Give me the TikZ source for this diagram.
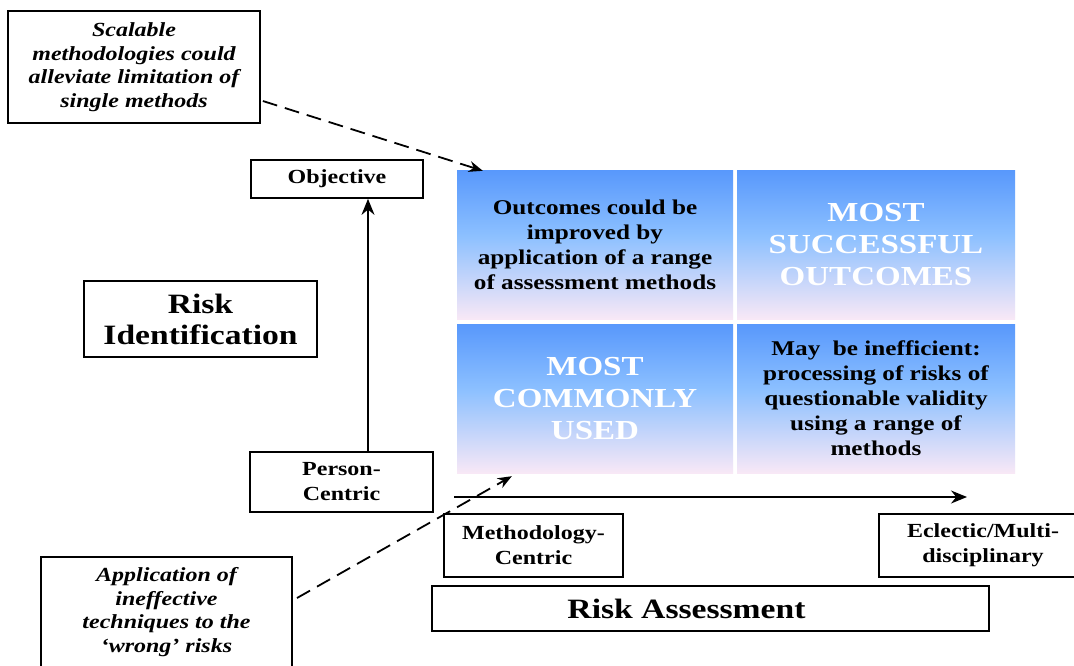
\documentclass[tikz,border=0pt]{standalone}
\usepackage{fontspec}
\setmainfont[FakeStretch=1.2]{Liberation Serif}
\usetikzlibrary{arrows.meta,calc}
\definecolor{qtop}{RGB}{88,152,252}
\definecolor{qmid}{RGB}{140,192,255}
\definecolor{qbot}{RGB}{248,232,246}
\pgfdeclareverticalshading{quadshade}{100bp}{color(0bp)=(qbot); color(25bp)=(qbot); color(53bp)=(qmid); color(75bp)=(qtop); color(100bp)=(qtop)}
\begin{document}
\begin{tikzpicture}[x=1pt,y=-1pt,
  box/.style={draw=black, line width=1.7pt, inner sep=0pt, align=center, fill=white},
  small/.style={font=\fontsize{20}{25}\selectfont\bfseries},
  ital/.style={font=\fontsize{20}{23.5}\selectfont\bfseries\itshape},
  big/.style={font=\fontsize{28}{31}\selectfont\bfseries},
  cell/.style={shading=quadshade, inner sep=0pt, align=center, minimum width=#1, minimum height=149pt},
  darktext/.style={font=\fontsize{21}{25}\selectfont\bfseries, text=black},
  lighttext/.style={font=\fontsize{27.5}{32}\selectfont\bfseries, text=white},
  solidarrow/.style={line width=1.7pt, -{Stealth[length=16pt,width=13pt]}},
  dasharrow/.style={line width=1.8pt, dash pattern=on 15pt off 8pt, -{Stealth[length=14pt,width=11pt]}}
]
\useasboundingbox (0,0) rectangle (1074,665);
\clip (0,0) rectangle (1074,665);
\fill[white] (0,0) rectangle (1074,665);

% quadrant cells
\node[cell=276pt, darktext] (q1) at (595,244.5) {Outcomes could be\\ improved by\\ application of a range\\ of assessment methods};
\node[cell=278pt, lighttext] (q2) at (876,244.5) {MOST\\ SUCCESSFUL\\ OUTCOMES};
\node[cell=276pt, lighttext] (q3) at (595,398.5) {MOST\\ COMMONLY\\ USED};
\node[cell=278pt, darktext] (q4) at (876,398.5) {May\ \ be inefficient:\\ processing of risks of\\ questionable validity\\ using a range of\\ methods};

% boxes
\node[box, ital, minimum width=252pt, minimum height=112pt] (scal) at (134,67) {Scalable\\ methodologies could\\ alleviate limitation of\\ single methods};
\node[box, small, minimum width=172pt, minimum height=38pt] (obj) at (337,179) {Objective};
\node[box, big, minimum width=233pt, minimum height=76pt] (riskid) at (200.5,319) {Risk\\ Identification};
\node[box, small, minimum width=183pt, minimum height=60pt] (person) at (341.5,482) {Person-\\ Centric};
\node[box, small, minimum width=179pt, minimum height=63pt] (meth) at (533.5,545.5) {Methodology-\\ Centric};
\node[box, small, minimum width=208pt, minimum height=63pt] (ecl) at (983,545.5) {Eclectic/Multi-\\ disciplinary};
\node[box, big, minimum width=557pt, minimum height=45pt] (riskass) at (710.5,608.5) {Risk Assessment\hspace*{48pt}};
\node[box, ital, minimum width=251pt, minimum height=110pt] (app) at (166.5,612) {Application of\\ ineffective\\ techniques to the\\ ‘wrong’ risks};

% axes
\coordinate (vx) at (368,0);
\draw[solidarrow] (person.north -| vx) -- (obj.south -| vx);
\coordinate (hs) at (454,497);
\coordinate (he) at (967,497);
\draw[solidarrow] (hs) -- (he);

% dashed callouts
\coordinate (d1s) at ($(scal.east)+(2,34)$);
\coordinate (d1e) at ($(q1.north west)+(26,1)$);
\draw[dasharrow] (d1s) -- (d1e);
\coordinate (d2s) at (297,598);
\coordinate (d2e) at ($(q3.south west)+(55,3)$);
\draw[dasharrow] (d2s) -- (d2e);
\end{tikzpicture}
\end{document}
